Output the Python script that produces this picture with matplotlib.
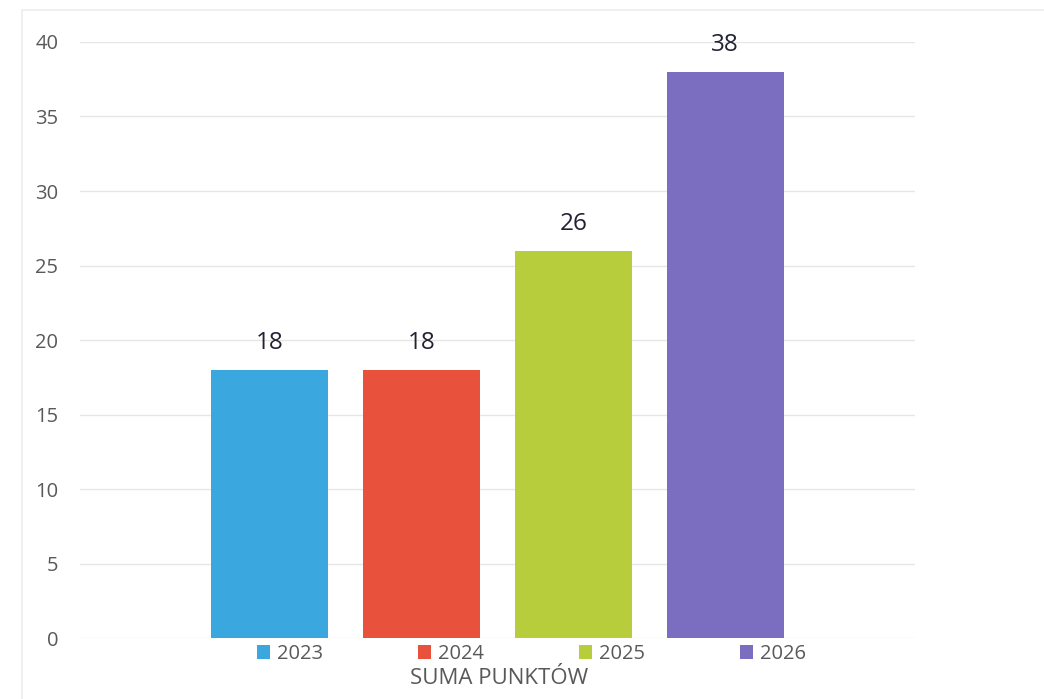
import matplotlib.pyplot as plt
from matplotlib.patches import Rectangle

plt.rcParams['font.family'] = ['Open Sans', 'DejaVu Sans']

lata = ['2023', '2024', '2025', '2026']
punkty = [18, 18, 26, 38]
kolory = ['#3aa8df', '#e8523c', '#b7cd3c', '#7b6dbf']
etykieta_x = 'SUMA PUNKTÓW'
yticki = [0, 5, 10, 15, 20, 25, 30, 35, 40]

fig = plt.figure(figsize=(10.44, 6.99), dpi=100)
ax = fig.add_axes([0.077, 0.087, 0.799, 0.853])

# faint frame like the scanned original
fig.patches.append(Rectangle((0.021, -0.01), 1.0, 0.996, transform=fig.transFigure,
                             fill=False, edgecolor='#ececec', linewidth=1.2))

pozycje = range(len(lata))
slupki = ax.bar(pozycje, punkty, width=0.77, color=kolory, label=lata, zorder=3)

for x, v in zip(pozycje, punkty):
    ax.annotate(str(v), (x, v), xytext=(0, 10.5), textcoords='offset points',
                ha='center', va='bottom', fontsize=17.5, color='#222233')

ax.set_xlim(-1.247, 4.247)
ax.set_ylim(0, 40)
ax.set_yticks(yticki)
ax.set_xticks([])
ax.yaxis.grid(True, color='#e6e6e6', linewidth=1, zorder=0)
ax.tick_params(axis='y', length=0, labelsize=14.5, labelcolor='#595959', pad=16)
for s in ax.spines.values():
    s.set_visible(False)

leg = ax.legend(slupki, lata, loc='upper center', bbox_to_anchor=(0.541, 0.004), ncol=4,
                frameon=False, fontsize=14.5, handlelength=0.65, handleheight=0.65,
                handletextpad=0.35, columnspacing=4.7, borderaxespad=0.0)
for t in leg.get_texts():
    t.set_color('#595959')

fig.text(0.478, 0.030, etykieta_x, ha='center', va='center', fontsize=16, color='#595959')

fig.savefig('out.png', dpi=100)
